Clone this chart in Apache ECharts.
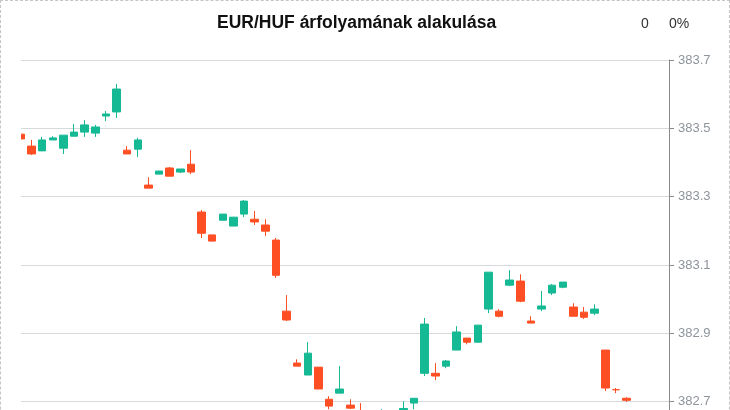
<!DOCTYPE html>
<html>
<head>
<meta charset="utf-8">
<script src="https://cdn.jsdelivr.net/npm/echarts@6/dist/echarts.min.js"></script>
<style>
html,body{margin:0;padding:0;overflow:hidden;background:#fff;}
#wrap{position:relative;width:730px;height:510px;}
#chart{position:absolute;left:0;top:0;width:730px;height:510px;}
#frame{position:absolute;left:0;top:0;width:730px;height:510px;box-sizing:border-box;border:1px dashed #c4c4c4;pointer-events:none;}
</style>
</head>
<body>
<div id="wrap"><div id="chart"></div><div id="frame"></div></div>
<script>
const titleText = 'EUR/HUF árfolyamának alakulása';
const changeValue = '0';
const changePercent = '0%';
const categories = ['09:00','09:01','09:02','09:03','09:04','09:05','09:06','09:07','09:08','09:09',
'09:10','09:11','09:12','09:13','09:14','09:15','09:16','09:17','09:18','09:19',
'09:20','09:21','09:22','09:23','09:24','09:25','09:26','09:27','09:28','09:29',
'09:30','09:31','09:32','09:33','09:34','09:35','09:36','09:37','09:38','09:39',
'09:40','09:41','09:42','09:43','09:44','09:45','09:46','09:47','09:48','09:49',
'09:50','09:51','09:52','09:53','09:54','09:55','09:56','09:57','09:58','09:59',
'10:00','10:01'];
const opens = [383.483,383.448,383.434,383.466,383.442,383.477,383.489,383.486,383.536,383.548,
383.436,383.439,383.334,383.366,383.384,383.372,383.395,383.255,383.188,383.231,
383.214,383.249,383.234,383.217,383.173,382.965,382.813,382.778,382.801,382.707,
382.725,382.690,382.665,382.630,382.640,382.660,382.650,382.696,382.783,382.783,
382.804,382.851,382.886,382.874,382.971,382.965,383.041,383.053,382.936,382.971,
383.018,383.035,382.977,382.962,382.959,382.851,382.735,382.710];
const closes = [383.469,383.425,383.466,383.472,383.480,383.489,383.510,383.504,383.542,383.615,
383.425,383.466,383.325,383.375,383.360,383.381,383.372,383.193,383.170,383.249,
383.240,383.287,383.226,383.199,383.070,382.939,382.804,382.842,382.737,382.687,
382.737,382.681,382.645,382.650,382.660,382.645,382.680,382.710,382.927,382.775,
382.819,382.904,382.874,382.924,383.079,382.950,383.056,382.994,382.930,382.980,
383.041,383.050,382.950,382.947,382.971,382.740,382.735,382.704];
const lows = [383.457,383.422,383.434,383.466,383.425,383.477,383.475,383.475,383.521,383.530,
383.425,383.416,383.325,383.366,383.360,383.369,383.366,383.179,383.170,383.231,
383.214,383.240,383.217,383.185,383.062,382.936,382.804,382.778,382.737,382.678,
382.725,382.678,382.640,382.620,382.635,382.640,382.640,382.678,382.775,382.763,
382.798,382.851,382.868,382.874,382.959,382.947,383.038,382.991,382.930,382.965,
383.012,383.032,382.950,382.942,382.953,382.731,382.725,382.699];
const highs = [383.486,383.466,383.475,383.477,383.480,383.513,383.524,383.510,383.551,383.630,
383.448,383.472,383.357,383.375,383.387,383.381,383.436,383.261,383.188,383.249,
383.240,383.290,383.258,383.234,383.179,383.012,382.824,382.874,382.801,382.716,
382.804,382.707,382.696,382.660,382.678,382.665,382.701,382.710,382.945,382.813,
382.822,382.921,382.886,382.924,383.079,382.971,383.085,383.073,382.950,383.024,
383.044,383.050,382.988,382.977,382.985,382.851,382.740,382.713];
const yTicks = [382.5, 383.7, 0.2];

const candles = opens.map((o, i) => [o, closes[i], lows[i], highs[i]]);
const upColor = '#15b994';
const downColor = '#fe4f24';
const font = 'Liberation Sans, Arial, sans-serif';

const chart = echarts.init(document.getElementById('chart'), null, {renderer: 'canvas'});
chart.setOption({
  animation: false,
  backgroundColor: '#fff',
  title: [{
    text: titleText,
    left: 212,
    top: 9,
    textStyle: {fontFamily: font, fontSize: 17.5, fontWeight: 'bold', color: '#111'}
  }, {
    text: changeValue,
    left: 636,
    top: 12,
    textStyle: {fontFamily: font, fontSize: 14, fontWeight: 'normal', color: '#333'}
  }, {
    text: changePercent,
    left: 664,
    top: 12,
    textStyle: {fontFamily: font, fontSize: 14, fontWeight: 'normal', color: '#333'}
  }],
  grid: {left: 21, right: 61, top: 60, bottom: 40, containLabel: false},
  xAxis: {
    type: 'category',
    data: categories,
    boundaryGap: false,
    axisLine: {show: false},
    axisTick: {show: false},
    axisLabel: {show: false},
    splitLine: {show: false}
  },
  yAxis: {
    type: 'value',
    position: 'right',
    min: yTicks[0],
    max: yTicks[1],
    interval: yTicks[2],
    scale: true,
    axisLine: {show: true, lineStyle: {color: '#8a8a8a', width: 1}},
    axisTick: {show: true, length: 5, lineStyle: {color: '#8a8a8a'}},
    axisLabel: {
      margin: 9,
      color: '#8e949c',
      fontSize: 13,
      fontFamily: font,
      formatter: v => v.toFixed(1)
    },
    splitLine: {show: true, lineStyle: {color: '#d7dadd', width: 1}}
  },
  graphic: [{
    type: 'rect',
    z: 100,
    silent: true,
    shape: {x: 0, y: 56, width: 21, height: 460},
    style: {fill: '#fff'}
  }],
  series: [{
    type: 'candlestick',
    data: candles,
    barWidth: 8,
    clip: true,
    itemStyle: {
      color: upColor,
      color0: downColor,
      borderColor: upColor,
      borderColor0: downColor,
      borderWidth: 1
    }
  }]
});
</script>
</body>
</html>
